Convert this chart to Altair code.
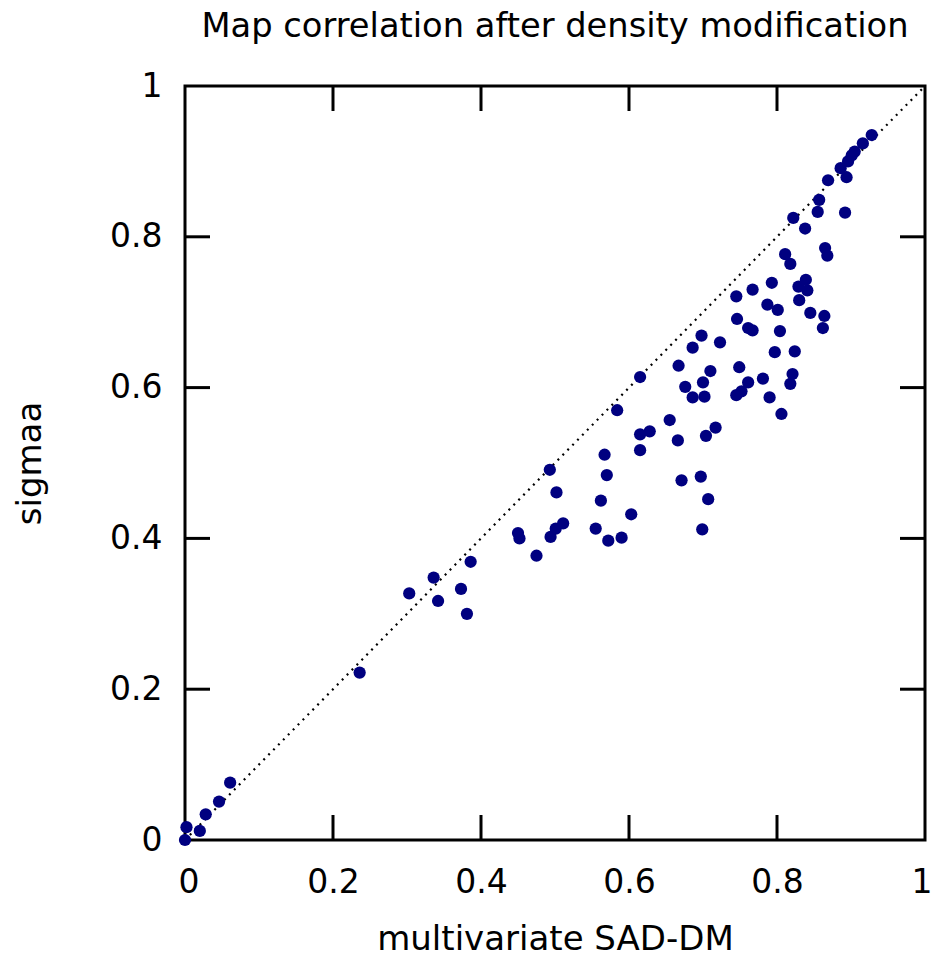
import altair as alt
import pandas as pd

# multivariate SAD-DM map correlation (x) vs sigmaa map correlation (y)
sad_dm = [0.000, 0.002, 0.020, 0.028, 0.046, 0.061, 0.236, 0.303, 0.336, 0.342,
          0.373, 0.386, 0.381, 0.450, 0.452, 0.475, 0.493, 0.502, 0.494, 0.501,
          0.511, 0.555, 0.562, 0.567, 0.570, 0.572, 0.590, 0.603, 0.615, 0.628,
          0.615, 0.655, 0.666, 0.671, 0.697, 0.707, 0.699, 0.704, 0.717, 0.584,
          0.615, 0.667, 0.676, 0.686, 0.700, 0.702, 0.710, 0.686, 0.698, 0.723,
          0.745, 0.752, 0.749, 0.761, 0.781, 0.790, 0.806, 0.818, 0.821, 0.797,
          0.824, 0.746, 0.761, 0.767, 0.804, 0.787, 0.801, 0.845, 0.864, 0.862,
          0.830, 0.745, 0.767, 0.793, 0.839, 0.829, 0.841, 0.811, 0.818, 0.865,
          0.868, 0.822, 0.838, 0.855, 0.857, 0.892, 0.869, 0.894, 0.886, 0.896,
          0.901, 0.905, 0.916, 0.928]
sigmaa = [0.000, 0.017, 0.012, 0.034, 0.051, 0.076, 0.222, 0.327, 0.348, 0.317,
          0.333, 0.369, 0.300, 0.407, 0.400, 0.377, 0.491, 0.461, 0.402, 0.413,
          0.420, 0.413, 0.450, 0.511, 0.484, 0.397, 0.401, 0.432, 0.538, 0.542,
          0.517, 0.557, 0.530, 0.477, 0.482, 0.452, 0.412, 0.536, 0.547, 0.570,
          0.614, 0.629, 0.601, 0.587, 0.607, 0.588, 0.622, 0.653, 0.669, 0.660,
          0.590, 0.595, 0.627, 0.607, 0.612, 0.587, 0.565, 0.605, 0.618, 0.647,
          0.648, 0.691, 0.679, 0.676, 0.675, 0.710, 0.703, 0.699, 0.695, 0.679,
          0.716, 0.721, 0.730, 0.739, 0.743, 0.734, 0.729, 0.777, 0.764, 0.785,
          0.775, 0.825, 0.811, 0.833, 0.849, 0.832, 0.875, 0.879, 0.891, 0.900,
          0.908, 0.913, 0.924, 0.935]

diag = [0.0, 1.0]
tick_values = [0.2, 0.4, 0.6, 0.8]
axis_values = [0, 0.2, 0.4, 0.6, 0.8, 1]
title_text = ["Map correlation after density modification"]

pts = pd.DataFrame({"x": sad_dm, "y": sigmaa})
line_df = pd.DataFrame({"v": diag})
ticks_df = pd.DataFrame({"t": tick_values})
title_df = pd.DataFrame({"label": title_text})

FONT = "DejaVu Sans"
W, H = 740, 754
TL = 25

xscale = alt.Scale(domain=[0, 1], nice=False, zero=False)
yscale = alt.Scale(domain=[0, 1], nice=False, zero=False)

xaxis = alt.Axis(values=axis_values, format="~g", ticks=False, domain=False, grid=False,
                 labelFont=FONT, labelFontSize=33, labelColor="black", labelPadding=26,
                 labelBaseline="top", labelFlush=True, labelFlushOffset=7, labelOverlap=False,
                 title="multivariate SAD-DM", titleFont=FONT, titleFontSize=34,
                 titleFontWeight="normal", titleColor="black",
                 titleBaseline="alphabetic", titleAlign="center", titleX=W / 2, titleY=109)
yaxis = alt.Axis(values=axis_values, format="~g", ticks=False, domain=False, grid=False,
                 labelFont=FONT, labelFontSize=33, labelColor="black", labelPadding=23,
                 labelBaseline="middle", labelAlign="right", labelFlush=False, labelOverlap=False,
                 title="sigmaa", titleFont=FONT, titleFontSize=34,
                 titleFontWeight="normal", titleColor="black", titleAngle=270,
                 titleBaseline="alphabetic", titleAlign="center", titleX=-145, titleY=H / 2)

diag_line = alt.Chart(line_df).mark_line(
    color="black", strokeWidth=2.2, strokeDash=[2, 5]
).encode(
    x=alt.X("v:Q", scale=xscale, axis=xaxis),
    y=alt.Y("v:Q", scale=yscale, axis=yaxis),
)

points = alt.Chart(pts).mark_circle(color="#000080", opacity=1, size=150).encode(
    x=alt.X("x:Q", scale=xscale),
    y=alt.Y("y:Q", scale=yscale),
)

base_t = alt.Chart(ticks_df).mark_rule(color="black", strokeWidth=3)
bottom_ticks = base_t.encode(x=alt.X("t:Q", scale=xscale), y=alt.value(H), y2=alt.value(H - TL))
top_ticks = base_t.encode(x=alt.X("t:Q", scale=xscale), y=alt.value(0), y2=alt.value(TL))
left_ticks = base_t.encode(y=alt.Y("t:Q", scale=yscale), x=alt.value(0), x2=alt.value(TL))
right_ticks = base_t.encode(y=alt.Y("t:Q", scale=yscale), x=alt.value(W), x2=alt.value(W - TL))

title_mark = alt.Chart(title_df).mark_text(
    font=FONT, fontSize=33.7, color="black", align="center", baseline="alphabetic"
).encode(
    text="label:N", x=alt.value(W / 2), y=alt.value(-49),
)

chart = alt.layer(
    diag_line, bottom_ticks, top_ticks, left_ticks, right_ticks, points, title_mark
).properties(
    width=W, height=H,
    autosize=alt.AutoSizeParams(type="none"),
    padding={"left": 185, "top": 86, "right": 9, "bottom": 117},
).configure(
    background="white",
    view=alt.ViewConfig(stroke="black", strokeWidth=3),
)

chart.save("out.html", embed_options={"renderer": "svg", "actions": False})
